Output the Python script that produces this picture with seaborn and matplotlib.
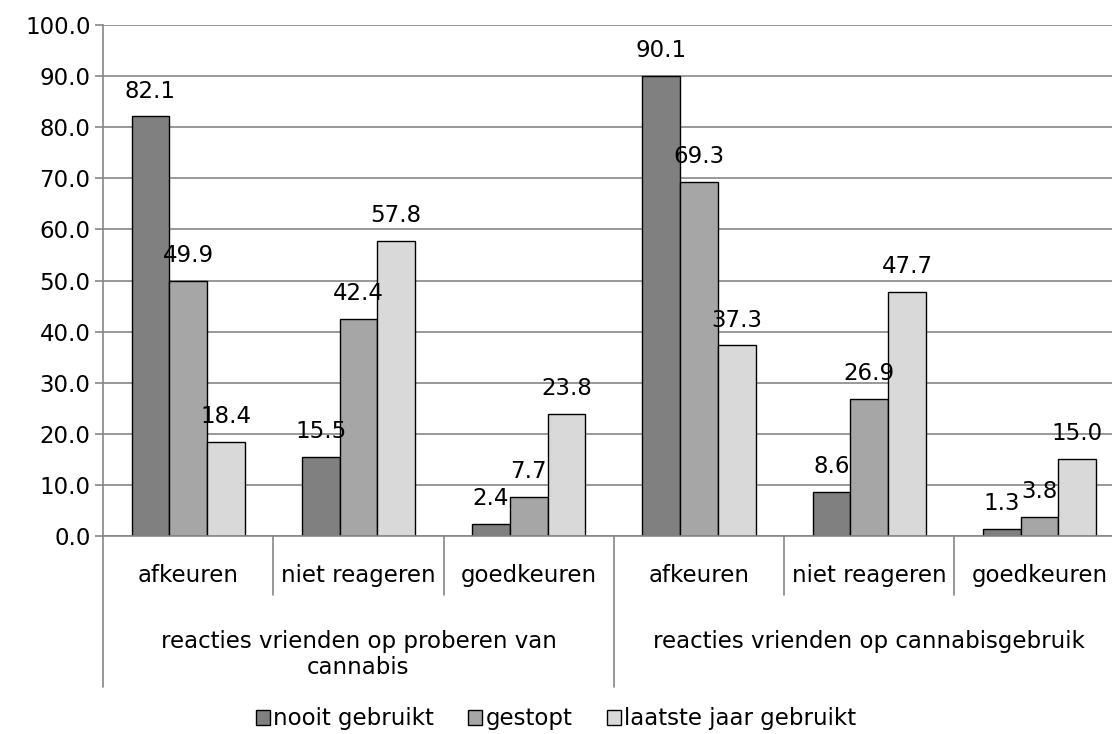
import numpy as np
import pandas as pd
import seaborn as sns
import matplotlib.pyplot as plt
from matplotlib.lines import Line2D
from matplotlib.patches import Patch
import matplotlib.transforms as mtransforms

# data
sub_labels = ["afkeuren", "niet reageren", "goedkeuren",
              "afkeuren", "niet reageren", "goedkeuren"]
group_labels = ["reacties vrienden op proberen van\ncannabis",
                "reacties vrienden op cannabisgebruik"]
series = ["nooit gebruikt", "gestopt", "laatste jaar gebruikt"]
nooit = [82.1, 15.5, 2.4, 90.1, 8.6, 1.3]
gestopt = [49.9, 42.4, 7.7, 69.3, 26.9, 3.8]
laatste = [18.4, 57.8, 23.8, 37.3, 47.7, 15.0]
colors = ["#808080", "#A6A6A6", "#D9D9D9"]

rows = []
for name, vals in zip(series, [nooit, gestopt, laatste]):
    for i, v in enumerate(vals):
        rows.append({"pos": i, "serie": name, "waarde": v})
df = pd.DataFrame(rows)

sns.set_theme(style="white")
plt.rcParams["font.family"] = ["DejaVu Sans"]
plt.rcParams["text.color"] = "black"
plt.rcParams["ytick.color"] = "black"
FS = 16.5

fig = plt.figure(figsize=(11.12, 7.34), dpi=100)
ax = fig.add_axes([103 / 1112, 1 - 536 / 734, 1 - 103 / 1112, 511 / 734])

sns.barplot(data=df, x="pos", y="waarde", hue="serie", hue_order=series,
            palette=colors, width=0.665, edgecolor="black", linewidth=1.0,
            saturation=1, ax=ax, legend=False)

ax.set_ylim(0, 100)
ax.set_xlim(-0.5, 5.425)
ax.set_yticks(np.arange(0, 101, 10))
ax.set_yticklabels([f"{t:.1f}" for t in np.arange(0, 101, 10)], fontsize=FS, color="black")
ax.yaxis.grid(True, color="#868686", linewidth=1.2)
ax.set_axisbelow(True)
ax.tick_params(axis="y", which="major", left=True, length=6, width=1.2, color="#868686", pad=3)
ax.set_xticks([])
ax.set_xlabel("")
ax.set_ylabel("")
for s in ["top", "right"]:
    ax.spines[s].set_visible(False)
ax.spines["left"].set_color("#868686")
ax.spines["left"].set_linewidth(1.2)
ax.spines["bottom"].set_color("#868686")
ax.spines["bottom"].set_linewidth(1.2)

# value labels
for cont in ax.containers:
    ax.bar_label(cont, fmt="%.1f", fontsize=FS, padding=10, color="black")

# multi-level category axis
trans = mtransforms.blended_transform_factory(ax.transData, ax.transAxes)
for x in [0.5, 1.5, 3.5, 4.5]:
    ax.add_line(Line2D([x, x], [0, -0.115], transform=trans, color="#868686",
                       linewidth=1.2, clip_on=False))
for x in [-0.5, 2.5]:
    ax.add_line(Line2D([x, x], [0, -0.295], transform=trans, color="#868686",
                       linewidth=1.2, clip_on=False))
for i, lab in enumerate(sub_labels):
    ax.text(i, -0.078, lab, transform=trans, ha="center", va="center",
            fontsize=FS, color="black", clip_on=False)
ax.text(1, -0.184, group_labels[0], transform=trans, ha="center", va="top",
        fontsize=FS, color="black", clip_on=False, linespacing=1.15)
ax.text(4, -0.184, group_labels[1], transform=trans, ha="center", va="top",
        fontsize=FS, color="black", clip_on=False)

handles = [Patch(facecolor=c, edgecolor="black", linewidth=1.0) for c in colors]
fig.legend(handles, series, loc="center", bbox_to_anchor=(0.5, 1 - 719 / 734),
           ncol=3, frameon=False, fontsize=FS, handlelength=0.6, handleheight=0.6,
           handletextpad=0.15, columnspacing=1.5, labelcolor="black")

fig.savefig("out.png", dpi=100)
